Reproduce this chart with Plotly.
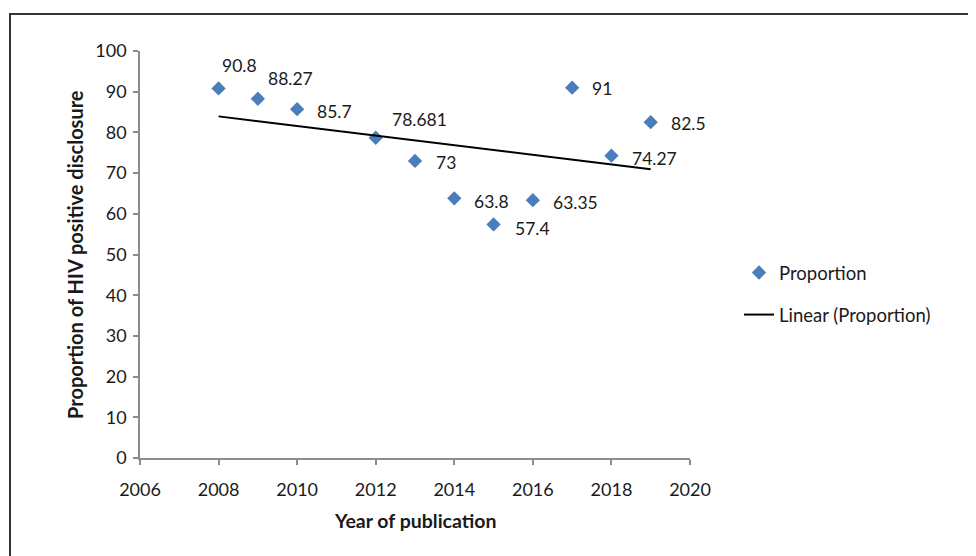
import numpy as np
import plotly.graph_objects as go

# ---- data ----
years = [2008, 2009, 2010, 2012, 2013, 2014, 2015, 2016, 2017, 2018, 2019]
proportion = [90.8, 88.27, 85.7, 78.681, 73, 63.8, 57.4, 63.35, 91, 74.27, 82.5]
x_ticks = [2006, 2008, 2010, 2012, 2014, 2016, 2018, 2020]
y_ticks = [0, 10, 20, 30, 40, 50, 60, 70, 80, 90, 100]

# label offsets (px) for each data label
label_dx = [1, 8, 18, 14, 19, 18, 19, 18, 18, 19, 18]
label_dy = [23, 20, -2, 18, -2, -3, -4, -2, -1, -3, -1]

# ---- layout geometry (px, in screenshot coordinates) ----
OFF = 8  # page body margin
W, H = 976, 556
L, R, T, B = 140, 690, 51, 458
pw, ph = R - L, B - T

def px(xp):
    return (xp - L) / pw

def py(yp):
    return (B - yp) / ph

FONT = "Lato, Calibri, 'Open Sans', sans-serif"
BLUE = "#4A7EBB"
TXT = "#1a1a1a"

slope, intercept = np.polyfit(years, proportion, 1)
trend_x = [min(years), max(years)]
trend_y = [slope * v + intercept for v in trend_x]

fig = go.Figure()
fig.add_trace(go.Scatter(
    x=years, y=proportion, mode="markers", name="Proportion",
    marker=dict(symbol="diamond", size=11, color=BLUE),
    legendgroup="a",
))
fig.add_trace(go.Scatter(
    x=trend_x, y=trend_y, mode="lines", name="Linear (Proportion)",
    line=dict(color="black", width=2),
    legendgroup="b",
))

annotations = []
for xv, yv, dx, dy in zip(years, proportion, label_dx, label_dy):
    annotations.append(dict(
        x=xv, y=yv, xref="x", yref="y", text=f"{yv:g}", showarrow=False,
        xanchor="left", yanchor="middle", xshift=dx, yshift=dy,
        font=dict(family=FONT, size=17.5, color=TXT),
    ))

annotations.append(dict(
    x=0.5, y=py(520), xref="paper", yref="paper", text="<b>Year of publication</b>",
    showarrow=False, xanchor="center", yanchor="middle",
    font=dict(family=FONT, size=19.5, color=TXT),
))
annotations.append(dict(
    x=px(75), y=py(255), xref="paper", yref="paper",
    text="<b>Proportion of HIV positive disclosure</b>", textangle=-90,
    showarrow=False, xanchor="center", yanchor="middle",
    font=dict(family=FONT, size=20, color=TXT),
))

axis_common = dict(
    showline=True, linecolor="#8c8c8c", linewidth=1.5,
    ticks="outside", tickcolor="#8c8c8c", ticklen=5, tickwidth=1.5,
    showgrid=False, zeroline=False,
    tickfont=dict(family=FONT, size=18, color=TXT),
)

fig.update_layout(
    width=W - OFF, height=H - OFF,
    margin=dict(l=L - OFF, r=W - R, t=T - OFF, b=H - B, autoexpand=False),
    paper_bgcolor="white", plot_bgcolor="white",
    xaxis=dict(range=[x_ticks[0], x_ticks[-1]], tickvals=x_ticks,
               ticklabelstandoff=10, **axis_common),
    yaxis=dict(range=[y_ticks[0], y_ticks[-1]], tickvals=y_ticks,
               ticklabelstandoff=3, **axis_common),
    showlegend=True,
    legend=dict(
        x=px(739), y=py(294), xanchor="left", yanchor="middle",
        font=dict(family=FONT, size=18.5, color=TXT),
        tracegroupgap=15, bgcolor="rgba(0,0,0,0)",
    ),
    annotations=annotations,
    shapes=[dict(
        type="path", xref="paper", yref="paper",
        path=f"M {px(10)} {py(W)} L {px(10)} {py(14)} L {px(W + 20)} {py(14)}",
        line=dict(color="#333333", width=2),
    )],
)

fig.write_html("out.html")
